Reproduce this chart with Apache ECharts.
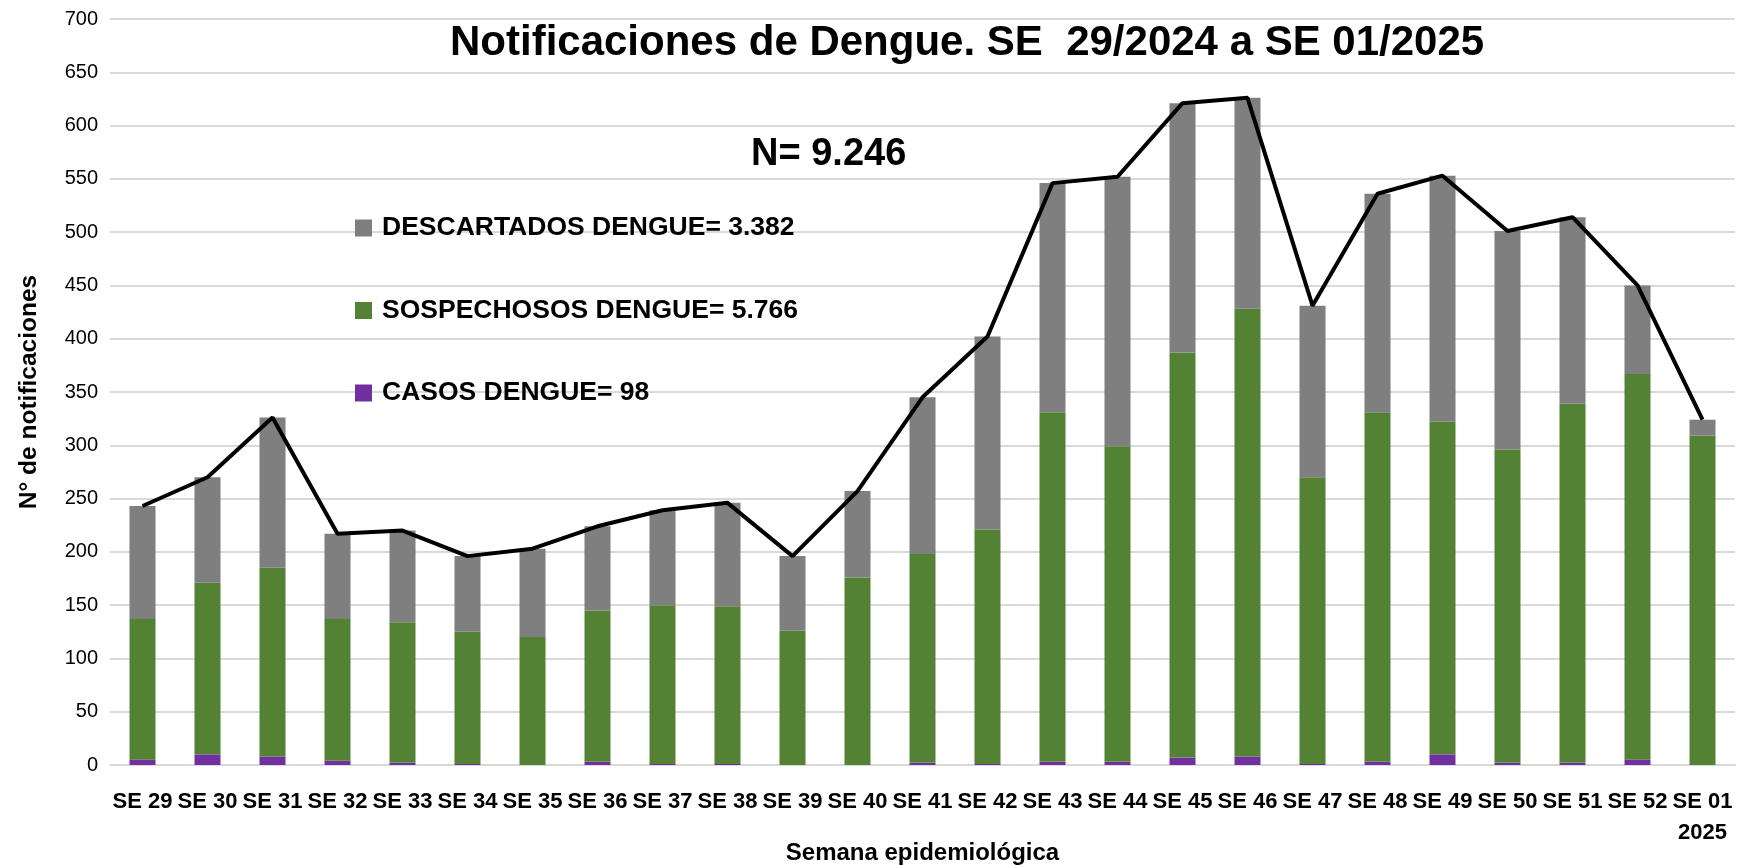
<!DOCTYPE html>
<html>
<head>
<meta charset="utf-8">
<script src="https://cdn.jsdelivr.net/npm/echarts@6/dist/echarts.min.js"></script>
<style>
  html, body { margin: 0; padding: 0; background: #ffffff; }
  #chart { width: 1752px; height: 865px; }
</style>
</head>
<body>
<div id="chart"></div>
<script>
// ---- Data ----
const categories = ['SE 29','SE 30','SE 31','SE 32','SE 33','SE 34','SE 35','SE 36','SE 37','SE 38','SE 39','SE 40',
  'SE 41','SE 42','SE 43','SE 44','SE 45','SE 46','SE 47','SE 48','SE 49','SE 50','SE 51','SE 52','SE 01\n2025'];
const casos = [5,10,8,4,2,1,0,3,1,1,0,0,2,1,3,3,7,8,1,3,10,2,2,5,0];
const sospechosos = [132,161,177,133,132,124,120,142,149,148,126,176,196,220,328,296,380,420,269,328,312,294,337,362,309];
const descartados = [106,99,141,80,86,71,83,79,89,97,70,81,147,181,215,253,234,198,161,205,231,205,175,83,15];
const totales = [243,270,326,217,220,196,203,224,239,246,196,257,345,402,546,552,621,626,431,536,553,501,514,450,324];
const yTicks = { min: 0, max: 700, interval: 50 };

const nameDescartados = 'DESCARTADOS DENGUE= 3.382';
const nameSospechosos = 'SOSPECHOSOS DENGUE= 5.766';
const nameCasos = 'CASOS DENGUE= 98';
const titleText = 'Notificaciones de Dengue. SE  29/2024 a SE 01/2025';
const totalText = 'N= 9.246';

const FONT = '"Liberation Sans", Arial, sans-serif';

const chart = echarts.init(document.getElementById('chart'), null, { renderer: 'canvas' });
chart.setOption({
  backgroundColor: '#ffffff',
  animation: false,
  textStyle: { fontFamily: FONT },
  title: [
    { text: titleText, left: 445, top: 17,
      textStyle: { fontFamily: FONT, fontSize: 42, fontWeight: 'bold', color: '#000' } },
    { text: totalText, left: 746, top: 131,
      textStyle: { fontFamily: FONT, fontSize: 38, fontWeight: 'bold', color: '#000' } }
  ],
  legend: {
    data: [nameDescartados, nameSospechosos, nameCasos],
    orient: 'vertical',
    left: 350, top: 208,
    itemWidth: 17, itemHeight: 17,
    itemGap: 52.5,
    icon: 'rect',
    textStyle: { fontFamily: FONT, fontSize: 26.5, fontWeight: 'bold', color: '#000', lineHeight: 30, padding: [0, 0, 0, 5] }
  },
  grid: { left: 110, right: 17, top: 19, bottom: 100, containLabel: false, outerBoundsMode: 'none' },
  xAxis: {
    type: 'category',
    data: categories,
    name: 'Semana epidemiológica',
    nameLocation: 'middle',
    nameGap: 76,
    nameMoveOverlap: false,
    nameTextStyle: { fontFamily: FONT, fontSize: 24, fontWeight: 'bold', color: '#000' },
    axisLine: { show: true, lineStyle: { color: '#d9d9d9', width: 2 } },
    axisTick: { show: false },
    axisLabel: { interval: 0, margin: 21, fontFamily: FONT, fontSize: 22, fontWeight: 'bold', color: '#000', lineHeight: 31 }
  },
  yAxis: {
    type: 'value',
    min: yTicks.min, max: yTicks.max, interval: yTicks.interval,
    name: 'N° de notificaciones',
    nameLocation: 'middle',
    nameGap: 68,
    nameMoveOverlap: false,
    nameRotate: 90,
    nameTextStyle: { fontFamily: FONT, fontSize: 24.5, fontWeight: 'bold', color: '#000' },
    axisLine: { show: false },
    axisTick: { show: false },
    axisLabel: { margin: 12, fontFamily: FONT, fontSize: 20, color: '#000' },
    splitLine: { lineStyle: { color: '#d9d9d9', width: 2 } }
  },
  series: [
    { name: nameCasos, type: 'bar', stack: 'total', barWidth: 26, data: casos,
      itemStyle: { color: '#7030A0' } },
    { name: nameSospechosos, type: 'bar', stack: 'total', barWidth: 26, data: sospechosos,
      itemStyle: { color: '#548235' } },
    { name: nameDescartados, type: 'bar', stack: 'total', barWidth: 26, data: descartados,
      itemStyle: { color: '#7F7F7F' } },
    { name: 'Total', type: 'line', data: totales, symbol: 'none', z: 5,
      lineStyle: { color: '#000', width: 4 } }
  ]
});
</script>
</body>
</html>
